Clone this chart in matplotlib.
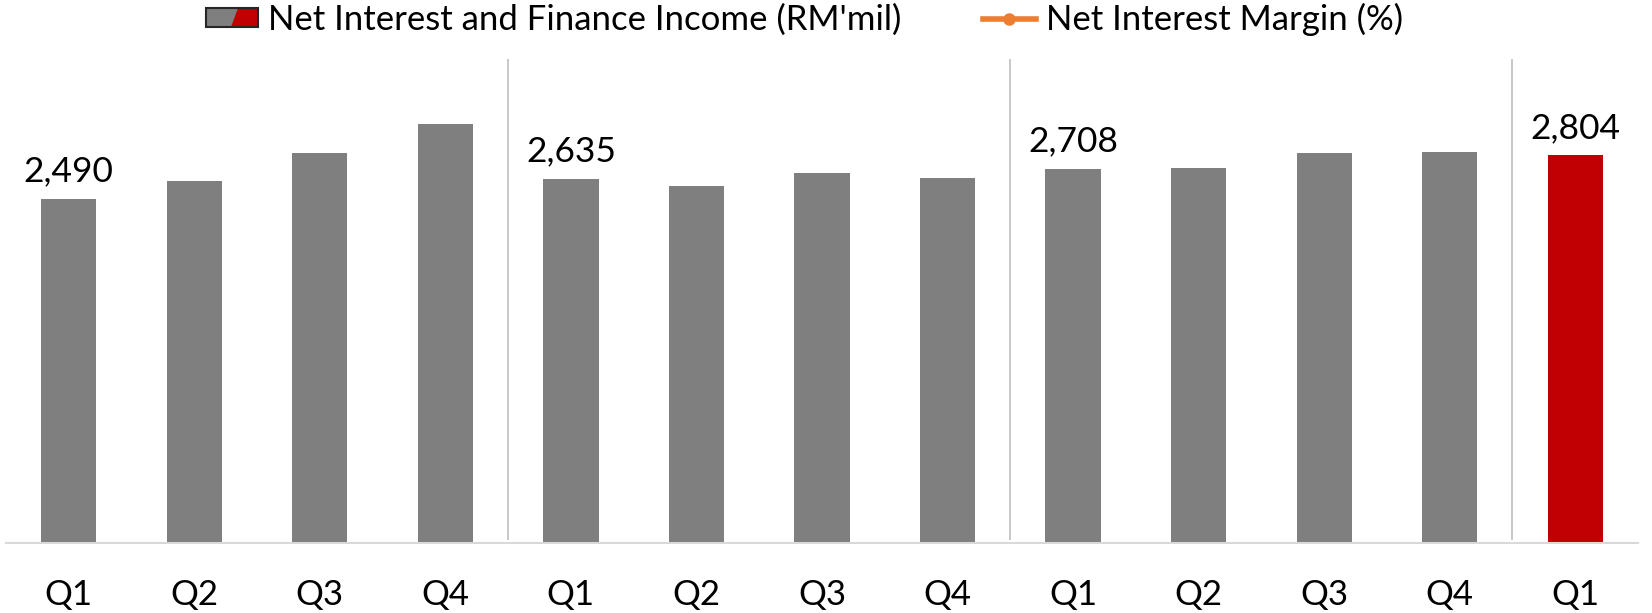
import matplotlib; matplotlib.use("Agg")
import matplotlib.pyplot as plt
from matplotlib.legend_handler import HandlerBase
from matplotlib.lines import Line2D
from matplotlib.patches import Rectangle, Polygon

plt.rcParams.update({"font.family": ["Lato", "DejaVu Sans"], "font.size": 24})
GRAY, RED, ORANGE = "#7f7f7f", "#c00000", "#ed7d31"

# Net interest and finance income per quarter (RM'mil)
quarters = ["Q1", "Q2", "Q3", "Q4", "Q1", "Q2", "Q3", "Q4", "Q1", "Q2", "Q3", "Q4", "Q1"]
income = [2490, 2617, 2817, 3027, 2635, 2581, 2675, 2639, 2708, 2710, 2819, 2827, 2804]
labelled = [0, 4, 8, 12]          # only the Q1 bars carry a value label
year_breaks = [3.5, 7.5, 11.5]


class SplitPatch(HandlerBase):
    """legend box: grey with a slanted red right part, thin black border"""
    def create_artists(self, legend, orig, xd, yd, w, h, fs, trans):
        x0, y0 = -xd, -yd
        grey = Rectangle((x0, y0), w, h, facecolor=GRAY, edgecolor="none", transform=trans)
        red = Polygon([[x0 + 0.48 * w, y0], [x0 + w, y0], [x0 + w, y0 + h], [x0 + 0.62 * w, y0 + h]],
                      closed=True, facecolor=RED, edgecolor="none", transform=trans)
        edge = Rectangle((x0, y0), w, h, fill=False, edgecolor="#262626", lw=1.5, transform=trans)
        return [grey, red, edge]


fig = plt.figure(figsize=(16.52, 6.13), dpi=100)
ax = fig.add_axes([6 / 1652, 1 - 543 / 613, (1638 - 6) / 1652, (543 - 59) / 613])
x = range(len(income))
colors = [GRAY] * (len(income) - 1) + [RED]
ax.bar(x, income, width=0.44, color=colors, zorder=2)
for i in labelled:
    ax.annotate(f"{income[i]:,}", (i, income[i]), xytext=(0, 8), textcoords="offset points",
                ha="center", va="bottom", fontsize=25.5)
ax.vlines(year_breaks, 22, 3500, color="#bfbfbf", lw=1.2, zorder=1)

ax.set_xlim(-0.5, len(income) - 0.5)
ax.set_ylim(0, 3500)
ax.set_xticks(list(x)); ax.set_xticklabels(quarters, fontsize=25)
ax.tick_params(axis="x", length=0, pad=26)
ax.set_yticks([])
for s in ("top", "right", "left"):
    ax.spines[s].set_visible(False)
ax.spines["bottom"].set_color("#d9d9d9"); ax.spines["bottom"].set_linewidth(1.5)

h1 = Rectangle((0, 0), 1, 1)
h2 = Line2D([], [], color=ORANGE, lw=4, marker="o", ms=8)
fig.legend([h1, h2], ["Net Interest and Finance Income (RM'mil)", "Net Interest Margin (%)"],
           handler_map={Rectangle: SplitPatch()}, loc="center", bbox_to_anchor=(0.487, 1 - 19 / 613),
           ncol=2, frameon=False, fontsize=25, handlelength=1.5, handleheight=0.47,
           handletextpad=0.3, columnspacing=2.35, borderaxespad=0, borderpad=0)
fig.savefig("out.png", dpi=100)
